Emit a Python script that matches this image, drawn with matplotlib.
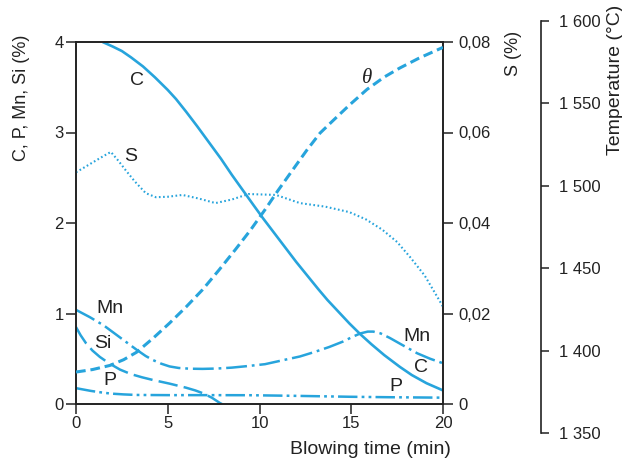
import matplotlib
matplotlib.use("Agg")
import matplotlib.pyplot as plt

plt.rcParams['font.family'] = ['Liberation Sans', 'DejaVu Sans']
plt.rcParams['lines.scale_dashes'] = False

BLUE = '#27a4dc'

# ---- data ----
c_t = [1.45, 2.0, 2.5, 3.0, 3.65, 4.3, 5.0, 5.45, 6.0, 6.6, 7.25, 7.9, 8.5, 9.1, 9.7, 10.2, 10.8, 11.4,
       12.0, 12.6, 13.2, 13.7, 14.3, 14.9, 15.5, 16.1, 16.8, 17.65, 18.3, 19.1, 20.0]
c_v = [4.0, 3.95, 3.90, 3.83, 3.73, 3.61, 3.47, 3.37, 3.23, 3.07, 2.89, 2.71, 2.53, 2.36, 2.19, 2.05, 1.89, 1.73,
       1.57, 1.42, 1.27, 1.15, 1.02, 0.89, 0.77, 0.66, 0.54, 0.41, 0.32, 0.23, 0.15]

s_t = [0.0, 0.5, 1.0, 1.5, 1.9, 2.3, 2.7, 3.2, 3.8, 4.35, 5.0, 5.8, 6.7, 7.6, 8.5, 9.4, 10.9, 12.2, 13.6,
       14.9, 15.8, 16.7, 17.5, 18.2, 19.0, 19.7, 20.0]
s_v = [0.0512, 0.0524, 0.0536, 0.0548, 0.0557, 0.0538, 0.0517, 0.0492, 0.0466, 0.0457, 0.0458, 0.0462, 0.0454,
       0.0444, 0.0452, 0.0464, 0.0462, 0.0444, 0.0436, 0.0424, 0.0408, 0.0385, 0.0358, 0.0325, 0.0284, 0.0236, 0.0215]

temp_t = [0.0, 0.9, 1.85, 2.6, 3.3, 4.2, 5.1, 6.0, 6.9, 7.8, 8.7, 9.5, 10.3, 11.0, 11.8, 12.57, 13.3, 14.0,
          14.9, 15.86, 16.8, 17.65, 18.7, 19.8, 20.0]
temp_v = [1387, 1388.5, 1391, 1394.5, 1399, 1407.5, 1416.7, 1426.5, 1437, 1449, 1461.5, 1473, 1485.5, 1497,
          1509.5, 1521.5, 1532, 1539.5, 1549, 1558.5, 1566, 1571.5, 1577.5, 1583, 1584]

mn_t = [0.0, 0.75, 1.5, 2.1, 2.7, 3.3, 3.8, 4.2, 4.65, 5.1, 5.6, 6.2, 6.9, 7.7, 8.5, 9.3, 10.3, 11.3, 12.2,
        13.0, 13.8, 14.55, 15.1, 15.5, 15.9, 16.2, 16.6, 17.1, 17.8, 18.6, 19.3, 20.0]
mn_v = [1.04, 0.96, 0.87, 0.78, 0.69, 0.60, 0.53, 0.485, 0.445, 0.415, 0.398, 0.39, 0.388, 0.392, 0.402, 0.418,
        0.44, 0.485, 0.525, 0.575, 0.63, 0.69, 0.745, 0.78, 0.80, 0.80, 0.78, 0.73, 0.65, 0.56, 0.50, 0.45]

si_t = [0.0, 0.25, 0.55, 0.9, 1.3, 1.8, 2.4, 3.0, 3.6, 4.2, 5.1, 6.0, 6.5, 6.9, 7.4, 7.85, 7.95]
si_v = [0.85, 0.76, 0.67, 0.59, 0.52, 0.45, 0.38, 0.33, 0.295, 0.265, 0.225, 0.18, 0.15, 0.12, 0.07, 0.01, 0.0]

p_t = [0.0, 0.4, 0.8, 1.3, 1.9, 2.6, 3.3, 5.0, 7.0, 9.5, 12.0, 14.9, 17.0, 20.0]
p_v = [0.175, 0.16, 0.145, 0.13, 0.115, 0.106, 0.1, 0.098, 0.098, 0.097, 0.09, 0.08, 0.075, 0.07]

y_ticks = [0, 1, 2, 3, 4]
x_ticks = [0, 5, 10, 15, 20]
s_ticks = [0, 0.02, 0.04, 0.06, 0.08]
s_tick_labels = ['0', '0,02', '0,04', '0,06', '0,08']
t_ticks = [1350, 1400, 1450, 1500, 1550, 1600]
t_tick_labels = ['1 350', '1 400', '1 450', '1 500', '1 550', '1 600']

W, H = 622, 459
fig = plt.figure(figsize=(W / 100, H / 100), dpi=100)
ax = fig.add_axes([76 / W, 1 - 404 / H, 367 / W, 362 / H])
ax.set_xlim(0, 20)
ax.set_ylim(0, 4)
ax.set_xticks(x_ticks)
ax.set_yticks(y_ticks)
ax.tick_params(direction='out', length=7, width=1.1, labelsize=12, colors='#222222', pad=2)
for sp in ax.spines.values():
    sp.set_linewidth(1.2)
    sp.set_color('#222222')

ax2 = ax.twinx()
ax2.set_ylim(0, 0.08)
ax2.set_yticks(s_ticks)
ax2.set_yticklabels(s_tick_labels)
ax2.tick_params(direction='out', length=7, width=1.1, labelsize=12, colors='#222222', pad=4)
for sp in ax2.spines.values():
    sp.set_linewidth(1.2)
    sp.set_color('#222222')

ax3 = fig.add_axes([76 / W, 1 - 433 / H, 367 / W, 412 / H])
ax3.set_facecolor('none')
ax3.set_xlim(0, 20)
ax3.set_ylim(1350, 1600)
ax3.set_xticks([])
for k in ['left', 'top', 'bottom']:
    ax3.spines[k].set_visible(False)
ax3.spines['right'].set_position(('outward', (541 - 443) * 0.72))
ax3.spines['right'].set_linewidth(1.2)
ax3.spines['right'].set_color('#222222')
ax3.yaxis.tick_right()
ax3.set_yticks(t_ticks)
ax3.set_yticklabels(t_tick_labels)
ax3.tick_params(direction='out', length=6, width=1.1, labelsize=12, colors='#222222', pad=7)

# ---- curves ----
ax.plot(c_t, c_v, color=BLUE, lw=1.9, solid_capstyle='butt', solid_joinstyle='round')
ax.plot(mn_t, mn_v, color=BLUE, lw=1.8, dashes=(15, 3.5, 2, 3.5))
ax.plot(si_t, si_v, color=BLUE, lw=1.8, dashes=(14, 4.5))
ax.plot(p_t, p_v, color=BLUE, lw=1.8, dashes=(14, 3, 2, 3, 2, 3))
ax2.plot(s_t, s_v, color=BLUE, lw=1.5, dashes=(1.2, 1.8))
ax3.plot(temp_t, temp_v, color=BLUE, lw=2.2, dashes=(7, 3.5))

# ---- curve labels ----
lab = dict(fontsize=14, color='#222222', ha='center', va='center')
ax.text(3.32, 3.58, 'C', **lab)
ax.text(3.0, 2.73, 'S', **lab)
ax.text(15.86, 3.6, 'θ', fontsize=15, color='#222222', ha='center', va='center',
        family=['Liberation Serif', 'DejaVu Serif'], style='italic')
ax.text(1.85, 1.06, 'Mn', **lab)
ax.text(1.47, 0.67, 'Si', **lab)
ax.text(1.85, 0.255, 'P', **lab)
ax.text(18.58, 0.75, 'Mn', **lab)
ax.text(18.8, 0.40, 'C', **lab)
ax.text(17.44, 0.19, 'P', **lab)

# ---- axis labels ----
fig.text(370 / W, 1 - 449 / H, 'Blowing time (min)', fontsize=14, color='#222222', ha='center', va='center')
fig.text(22 / W, 1 - 98 / H, 'C, P, Mn, Si (%)', fontsize=13, color='#222222', rotation=90, ha='center', va='center')
fig.text(513 / W, 1 - 53 / H, 'S (%)', fontsize=13, color='#222222', rotation=90, ha='center', va='center')
fig.text(615 / W, 1 - 155 / H, 'Temperature (°C)', fontsize=14, color='#222222', rotation=90, ha='center', va='bottom')

fig.savefig('out.png', dpi=100)
